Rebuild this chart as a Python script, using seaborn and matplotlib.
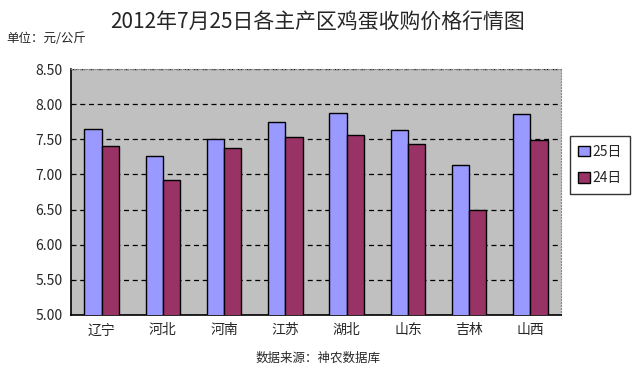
import pandas as pd
import seaborn as sns
import matplotlib.pyplot as plt
from matplotlib.ticker import MultipleLocator, FixedLocator

# data
regions = ['辽宁', '河北', '河南', '江苏', '湖北', '山东', '吉林', '山西']
price_25 = [7.65, 7.26, 7.50, 7.74, 7.87, 7.63, 7.14, 7.86]
price_24 = [7.40, 6.92, 7.37, 7.53, 7.56, 7.43, 6.50, 7.49]
series = ['25日', '24日']
colors = ['#9999FF', '#993366']

df = pd.DataFrame({
    'region': regions * 2,
    'price': price_25 + price_24,
    'day': [series[0]] * len(regions) + [series[1]] * len(regions),
})

sns.set_style('white')
plt.rcParams['font.family'] = ['Noto Sans CJK SC', 'DejaVu Sans']

fig = plt.figure(figsize=(6.36, 3.71), dpi=100)
ax = fig.add_axes([71 / 636, 1 - 315 / 371, 490 / 636, 246 / 371])
ax.set_facecolor('#C0C0C0')

sns.barplot(data=df, x='region', y='price', hue='day', palette=colors,
            saturation=1, width=0.56, gap=0, edgecolor='black', linewidth=1,
            ax=ax, zorder=3)

ax.set_ylim(5.0, 8.5)
ax.set_xlim(-0.5, len(regions) - 0.5)
ax.yaxis.set_major_locator(MultipleLocator(0.5))
ax.yaxis.set_major_formatter(plt.FormatStrFormatter('%.2f'))
ax.grid(axis='y', color='black', linestyle=(0, (4, 3)), linewidth=0.9, zorder=1)
ax.set_xlabel('')
ax.set_ylabel('')
ax.tick_params(axis='both', labelsize=10, length=0, pad=6)
ax.xaxis.set_minor_locator(FixedLocator([i + 0.5 for i in range(len(regions) - 1)]))
ax.tick_params(axis='x', which='minor', direction='in', length=4, color='black')

for side in ['top', 'right']:
    ax.spines[side].set_color('#888888')
    ax.spines[side].set_linestyle(':')
    ax.spines[side].set_linewidth(0.8)
for side in ['left', 'bottom']:
    ax.spines[side].set_color('black')
    ax.spines[side].set_linewidth(1.2)

ax.legend(loc='center left', bbox_to_anchor=(1.01, 0.61), frameon=True,
          fancybox=False, edgecolor='black', fontsize=10,
          handlelength=0.8, handleheight=0.8, handletextpad=0.2,
          labelspacing=0.9, borderpad=0.6, borderaxespad=0.3)

fig.text(0.5, 0.94, '2012年7月25日各主产区鸡蛋收购价格行情图',
         ha='center', va='center', fontsize=15)
fig.text(0.01, 0.895, '单位：元/公斤', ha='left', va='center', fontsize=9)
fig.text(0.5, 0.035, '数据来源：神农数据库', ha='center', va='center', fontsize=9)

fig.savefig('out.png', dpi=100)
